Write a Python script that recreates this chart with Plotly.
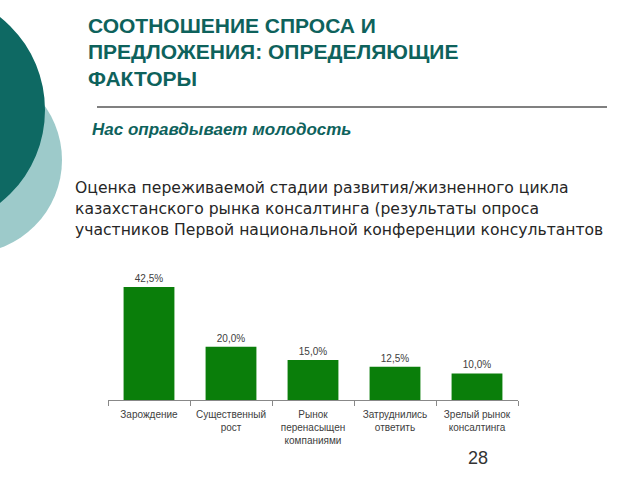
import plotly.graph_objects as go

categories = ["Зарождение", "Существенный<br>рост", "Рынок<br>перенасыщен<br>компаниями",
              "Затруднились<br>ответить", "Зрелый рынок<br>консалтинга"]
values = [42.5, 20.0, 15.0, 12.5, 10.0]
value_labels = ["42,5%", "20,0%", "15,0%", "12,5%", "10,0%"]

W, H = 640, 480
def px(x): return x / W
def py(y): return 1 - y / H

fig = go.Figure()
fig.add_trace(go.Bar(
    x=categories, y=values, text=value_labels, textposition="outside",
    textfont=dict(family="Liberation Sans, Arial", size=10, color="#404040"),
    marker=dict(color="#0A7E0A", line=dict(width=0)),
    cliponaxis=False,
))

teal = "#0E625C"
annotations = []
for line, yc in [("СООТНОШЕНИЕ СПРОСА И", 25),
                 ("ПРЕДЛОЖЕНИЯ: ОПРЕДЕЛЯЮЩИЕ", 51.5),
                 ("ФАКТОРЫ", 78.5)]:
    annotations.append(dict(text=line, x=px(86), y=py(yc), xref="paper", yref="paper",
                            xanchor="left", yanchor="middle", showarrow=False,
                            font=dict(family="Liberation Sans, Arial", size=21, color=teal, weight="bold")))
annotations.append(dict(text="<b><i>Нас оправдывает молодость</i></b>", x=px(90), y=py(129),
                        xref="paper", yref="paper", xanchor="left", yanchor="middle", showarrow=False,
                        font=dict(family="Liberation Sans, Arial", size=17, color=teal)))
for line, yc in [("Оценка переживаемой стадии развития/жизненного цикла", 188),
                 ("казахстанского рынка консалтинга (результаты опроса", 209),
                 ("участников Первой национальной конференции консультантов", 230)]:
    annotations.append(dict(text=line, x=px(73), y=py(yc), xref="paper", yref="paper",
                            xanchor="left", yanchor="middle", showarrow=False,
                            font=dict(family="DejaVu Sans, Verdana", size=15.6, color="#262626")))
annotations.append(dict(text="28", x=px(478), y=py(458), xref="paper", yref="paper",
                        xanchor="center", yanchor="middle", showarrow=False,
                        font=dict(family="Liberation Sans, Arial", size=18, color="#333333")))

shapes = [
    dict(type="circle", xref="paper", yref="paper", layer="below",
         x0=px(-125), x1=px(62), y0=py(66.5), y1=py(253.5),
         fillcolor="#9DCACA", line=dict(width=0)),
    dict(type="circle", xref="paper", yref="paper", layer="below",
         x0=px(-192), x1=px(45), y0=py(-8.6), y1=py(228.6),
         fillcolor="#0E6963", line=dict(width=0)),
    dict(type="line", xref="paper", yref="paper",
         x0=px(97), x1=px(607), y0=py(107), y1=py(107),
         line=dict(color="#808080", width=2)),
]

fig.update_layout(
    width=W, height=H, margin=dict(l=0, r=0, t=0, b=0),
    paper_bgcolor="white", plot_bgcolor="white",
    showlegend=False, bargap=0.38,
    annotations=annotations, shapes=shapes,
    xaxis=dict(domain=[px(108), px(518)], showline=True, linecolor="#888888", linewidth=1,
               ticks="outside", tickson="boundaries", ticklen=5, tickcolor="#888888",
               ticklabelstandoff=5,
               tickfont=dict(family="Liberation Sans, Arial", size=10, color="#404040"),
               showgrid=False, fixedrange=True),
    yaxis=dict(domain=[80 / H, 213 / H], range=[0, 50], visible=False, showgrid=False,
               fixedrange=True),
)

fig.write_html("out.html")
